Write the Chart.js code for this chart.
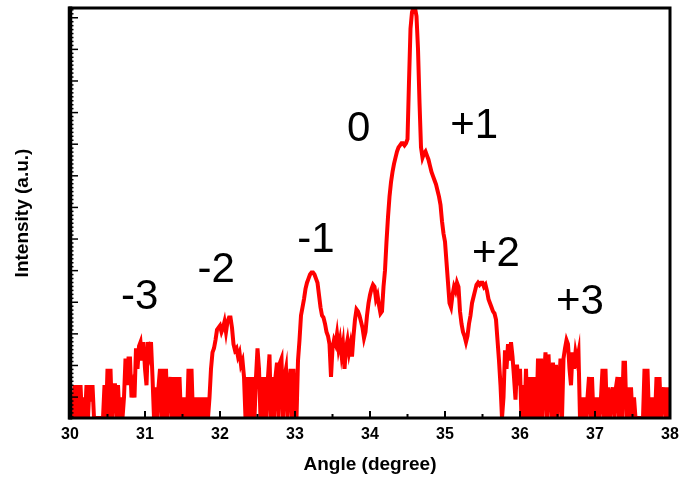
<!DOCTYPE html>
<html lang="en">
<head>
<meta charset="UTF-8">
<title>Satellite peaks</title>
<script src="https://cdn.jsdelivr.net/npm/chart.js"></script>
<style>
  html, body { margin: 0; padding: 0; background: #fff; }
  #wrap { width: 679px; height: 480px; }
</style>
</head>
<body>
<div id="wrap"><canvas id="xrd"></canvas></div>
<script>
// intensity, one value every 0.02 degree from 30 to 38 (a.u., 0-100)
const intensity = [
  0, 5, 0, 8, 0, 8, 0, 8, 0, 5,                 // 30.0
  0, 8, 0, 8, 4, 8, 0, 0, 0, 0,                 // 30.2
  0, 0, 0, 8, 0, 12, 0, 12, 0, 8,               // 30.4
  8, 0, 8, 0, 5, 0, 5, 14.5, 8, 14.5,           // 30.6
  14.5, 5, 7.5, 5, 17, 12, 17.5, 18.5, 14, 18.5, // 30.8
  12, 8, 18.5, 16, 18.5, 10, 0, 7.5, 0, 7.5,    // 31.0
  12, 0, 12, 0, 12, 0, 7.5, 10, 0, 10,          // 31.2
  0, 10, 0, 10, 0, 5, 0, 5, 0, 12,              // 31.4
  0, 12, 0, 5, 0, 5, 0, 5, 0, 5,                // 31.6
  0, 5, 0, 5, 12, 16, 17, 19, 21.5, 22,         // 31.8
  22.5, 21, 22, 23.5, 21, 23.5, 24.5, 24.5, 22, 18, // 32.0
  16.5, 17, 15, 16, 13, 14, 10, 0, 10, 0,       // 32.2
  10, 0, 10, 0, 10, 17, 12, 0, 10, 0,           // 32.4
  10, 0, 10, 15.5, 0, 10, 0, 10, 13.5, 0,       // 32.6
  13.5, 14.5, 0, 10, 12, 0, 7.5, 12, 0, 12,     // 32.8
  0, 0, 14, 19, 25, 27, 29, 31.5, 33, 34,       // 33.0
  35, 35.5, 35.5, 35, 34, 33, 30, 27, 25, 24.5, // 33.2
  23, 21, 20, 18, 10, 17, 19, 18, 20.5, 17,     // 33.4
  19, 15.5, 18, 12, 17, 19, 16, 18, 15, 20,     // 33.6
  24, 26.5, 26, 25, 23.5, 22, 19.5, 21, 25, 28, // 33.8
  30, 31.5, 32.5, 32, 29, 30, 27.5, 25.5, 26, 32, // 34.0
  36, 43, 49, 54, 57.5, 60, 62, 63.5, 65, 66,   // 34.2
  66.5, 67, 67, 66.5, 67, 68, 82, 95, 99, 100,  // 34.4
  100, 98, 90, 77, 66, 63.5, 64.5, 65, 64, 63,  // 34.6
  61.5, 60, 59, 58, 57, 55.5, 54, 52, 48, 45,   // 34.8
  43, 38, 33, 28, 27, 30, 32, 31, 33, 32,       // 35.0
  26, 23, 21, 20, 18.5, 20, 23, 25, 28, 29.5,   // 35.2
  31, 32.5, 33, 32.5, 33, 33, 32, 32.5, 31, 29, // 35.4
  28, 27, 26, 25.5, 24, 19, 14, 8, 0, 5,        // 35.6
  16.5, 12, 18, 14, 18.5, 15, 10, 4.5, 13, 8,   // 35.8
  12, 0, 8, 0, 12, 0, 10, 0, 10, 0,             // 36.0
  10, 0, 14.5, 0, 14.5, 0, 10, 16, 0, 15.5,     // 36.2
  7.5, 0, 13.5, 0, 13, 0, 7.5, 14.5, 0, 14.5,   // 36.4
  17, 19, 18, 12, 8, 16, 12, 16, 14, 16,        // 36.6
  0, 5, 0, 5, 0, 5, 10, 0, 10, 0,               // 36.8
  5, 0, 5, 0, 5, 12, 0, 12, 0, 7.5,             // 37.0
  0, 5, 7.5, 0, 7.5, 10, 0, 10, 0, 13.5,        // 37.2
  13.5, 0, 7.5, 0, 7.5, 0, 5, 0, 0, 0,          // 37.4
  0, 0, 0, 12, 0, 12, 0, 5, 0, 5,               // 37.6
  0, 10, 0, 10, 0, 5, 7.5, 0, 7.5, 0,           // 37.8
  7.5                                           // 38.0
];
// scan positions (degree)
const angle = intensity.map((_, i) => +(30 + i * 0.02).toFixed(2));

// x tick labels
const angleTicks = [30, 31, 32, 33, 34, 35, 36, 37, 38];

// satellite order labels and where they sit
const orderText  = ['-3', '-2', '-1', '0', '+1', '+2', '+3'];
const orderAngle = [30.93, 31.95, 33.28, 33.85, 35.39, 35.68, 36.80];
const orderLevel = [29.3, 36.1, 43.2, 70.5, 71.2, 39.8, 28.3];

// unlabeled y ticks
const yMajorStart = 5.1, yMajorStep = 7.71, yMinorPerMajor = 8;

const frameAndTicks = {
  id: 'frameAndTicks',
  afterDatasetsDraw(chart) {
    const {ctx, chartArea: a, scales: {x, y}} = chart;
    ctx.save();
    ctx.strokeStyle = '#000';
    ctx.lineCap = 'butt';

    // x ticks pointing in
    ctx.lineWidth = 2;
    for (let v = 30.5; v < 38; v += 0.5) {
      const px = x.getPixelForValue(v);
      const len = Number.isInteger(v) ? 7 : 4;
      ctx.beginPath();
      ctx.moveTo(px, a.bottom);
      ctx.lineTo(px, a.bottom - len);
      ctx.stroke();
    }
    // y ticks pointing in
    ctx.lineWidth = 1.5;
    const minor = yMajorStep / yMinorPerMajor;
    for (let k = 0; ; k++) {
      const v = yMajorStart - yMajorStep + k * minor;
      if (v > 100) break;
      if (v <= 0) continue;
      const major = k % yMinorPerMajor === 0;
      const py = y.getPixelForValue(v);
      ctx.beginPath();
      ctx.moveTo(a.left, py);
      ctx.lineTo(a.left + (major ? 8 : 3.5), py);
      ctx.stroke();
    }

    // frame
    ctx.lineWidth = 3;
    ctx.strokeRect(a.left, a.top, a.right - a.left, a.bottom - a.top);
    ctx.lineWidth = 4.5;
    ctx.beginPath();
    ctx.moveTo(a.left, a.top - 1.5);
    ctx.lineTo(a.left, a.bottom + 1.5);
    ctx.stroke();

    // order labels
    ctx.fillStyle = '#000';
    ctx.font = '42px "Liberation Sans", Arial, sans-serif';
    ctx.textAlign = 'center';
    ctx.textBaseline = 'middle';
    orderText.forEach((t, i) => {
      ctx.fillText(t, x.getPixelForValue(orderAngle[i]), y.getPixelForValue(orderLevel[i]));
    });
    ctx.restore();
  }
};

new Chart(document.getElementById('xrd'), {
  type: 'line',
  data: {
    datasets: [{
      data: angle.map((a, i) => ({x: a, y: intensity[i]})),
      borderColor: '#ff0000',
      borderWidth: 4,
      pointRadius: 0,
      tension: 0,
      fill: false
    }]
  },
  options: {
    responsive: true,
    maintainAspectRatio: false,
    animation: false,
    events: [],
    layout: { padding: { top: 8, right: 9, left: 0, bottom: 0 } },
    plugins: { legend: { display: false }, tooltip: { enabled: false } },
    scales: {
      x: {
        type: 'linear',
        min: 30,
        max: 38,
        afterBuildTicks: s => { s.ticks = angleTicks.map(v => ({value: v})); },
        afterFit: s => { s.height = 62; },
        grid: { display: false, drawTicks: true, tickLength: 7 },
        border: { display: false },
        ticks: {
          color: '#000',
          padding: 0,
          maxRotation: 0,
          font: { family: '"Liberation Sans", Arial, sans-serif', size: 16, weight: 'bold' }
        },
        title: {
          display: true,
          text: 'Angle (degree)',
          color: '#000',
          padding: { top: 0, bottom: 4 },
          font: { family: '"Liberation Sans", Arial, sans-serif', size: 19, weight: 'bold' }
        }
      },
      y: {
        min: 0,
        max: 100,
        afterFit: s => { s.width = 70; },
        grid: { display: false, drawTicks: false },
        border: { display: false },
        ticks: { display: false },
        title: {
          display: true,
          text: 'Intensity (a.u.)',
          color: '#000',
          padding: { top: 11, bottom: 0 },
          font: { family: '"Liberation Sans", Arial, sans-serif', size: 19, weight: 'bold' }
        }
      }
    }
  },
  plugins: [frameAndTicks]
});
</script>
</body>
</html>
